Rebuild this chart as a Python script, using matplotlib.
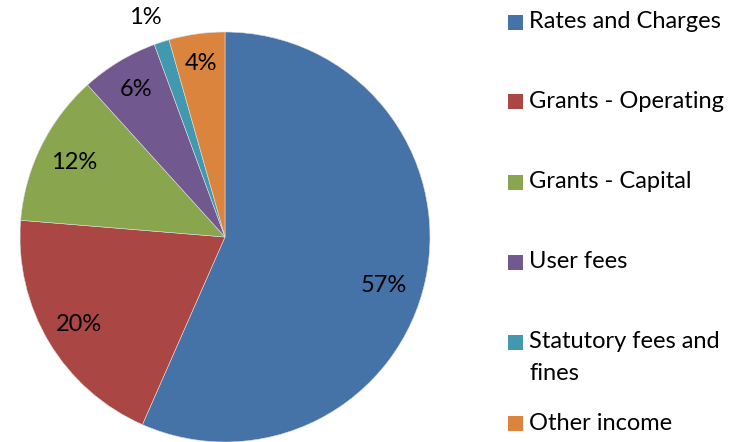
import numpy as np
import matplotlib.pyplot as plt
from matplotlib.patches import Rectangle

plt.rcParams['font.family'] = ['Lato', 'DejaVu Sans']

# Income shares (%)
categories = ["Rates and Charges", "Grants - Operating", "Grants - Capital",
              "User fees", "Statutory fees and\nfines", "Other income"]
shares = [56.6, 19.7, 12.0, 6.1, 1.2, 4.4]
pct_labels = ["57%", "20%", "12%", "6%", "1%", "4%"]
colors = ["#4572A7", "#AA4643", "#89A54E", "#71588F", "#4198AF", "#DB843D"]

# label placement (radius fraction, angle tweak in degrees)
label_r = [0.81, 0.83, 0.82, 0.84, 1.14, 0.855]
label_dang = [-5, 0, 0, 0, 2, 0]

W, H = 743, 442
fig = plt.figure(figsize=(W / 100, H / 100), dpi=100)
cx, cy, r = 225, 237, 205
ax = fig.add_axes([(cx - r) / W, (H - cy - r) / H, 2 * r / W, 2 * r / H])

wedges, _ = ax.pie(shares, colors=colors, startangle=90, counterclock=False,
                   radius=1, wedgeprops=dict(edgecolor="#dddddd", linewidth=0.4))
ax.set_xlim(-1, 1)
ax.set_ylim(-1, 1)
ax.set_aspect("equal")
ax.axis("off")

for w, lab, rr, da in zip(wedges, pct_labels, label_r, label_dang):
    ang = np.deg2rad((w.theta1 + w.theta2) / 2 + da)
    ax.text(rr * np.cos(ang), rr * np.sin(ang), lab, ha="center", va="center",
            fontsize=17, color="black", clip_on=False)

# legend, laid out like the original
legend_y = [22, 101, 182, 262, 342, 423]
for cat, col, y in zip(categories, colors, legend_y):
    fig.patches.append(Rectangle((508 / W, (H - y - 7.5) / H), 15 / W, 15 / H,
                                 facecolor=col, edgecolor="none",
                                 transform=fig.transFigure, figure=fig))
    if "\n" in cat:
        # two-line entry: first line centred on the marker, 31 px line pitch
        first, second = cat.split("\n")
        fig.text(529 / W, (H - y) / H, first, ha="left", va="center", fontsize=17)
        fig.text(529 / W, (H - y - 31) / H, second, ha="left", va="center", fontsize=17)
    else:
        fig.text(529 / W, (H - y) / H, cat, ha="left", va="center", fontsize=17)

fig.savefig("out.png", dpi=100)
